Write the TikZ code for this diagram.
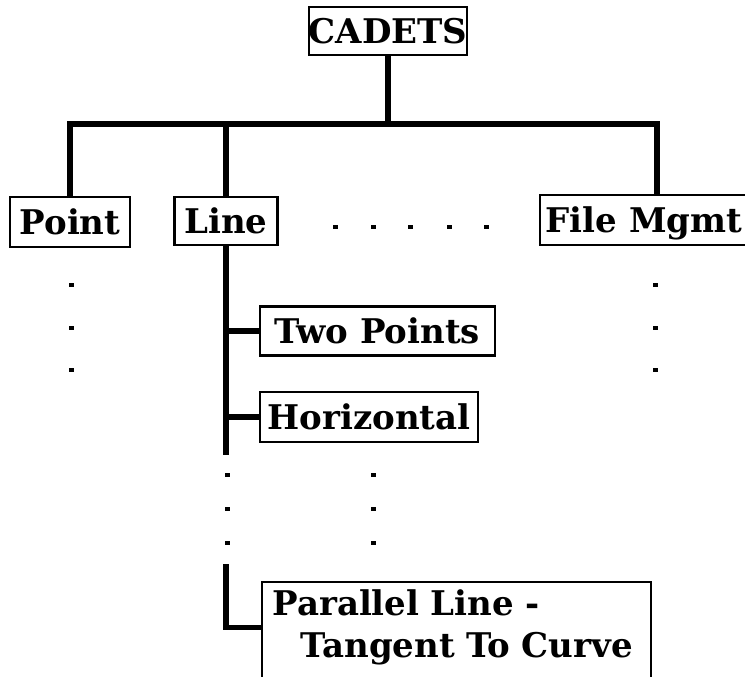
\documentclass[tikz,border=0pt]{standalone}
\usepackage{fontspec}
\setmainfont{DejaVu Serif}
\usetikzlibrary{calc}

% small dash used for the "more items" marks
\newcommand{\dotmark}[1]{\fill (#1) ++(-2.5,-1.6) rectangle ++(5,3.2);}

\begin{document}
\begin{tikzpicture}[x=0.5pt, y=-0.5pt,
    box/.style={draw, line width=1.1pt, inner sep=0pt, text height=12.5pt, text depth=0pt,
                font=\fontsize{17}{21}\selectfont\bfseries},
    conn/.style={line width=2.6pt}]
    % Frame of the picture
    \clip (0,0) rectangle (745,676);

    % Root
    \node[box, minimum width=79pt, minimum height=24pt] (cadets) at (388,31) {CADETS};

    % Second level
    \node[box, minimum width=60pt, minimum height=25pt] (point) at (70,222) {Point};
    \node[box, minimum width=51.5pt, minimum height=24pt] (line) at (226,221) {Line};
    \node[box, minimum width=104pt, minimum height=25pt] (filemgmt) at (644,220) {File Mgmt};

    % Bar between root and second level
    \coordinate (bar) at (388,124);
    \coordinate (fm) at (657,124);
    \draw[conn] (cadets.south) -- (bar);
    \draw[conn] (point.north) |- (fm) -- (fm |- filemgmt.north);
    \draw[conn] (line.north) -- (line.north |- bar);

    % Sub-items of Line
    \node[box, minimum width=117.5pt, minimum height=24.5pt] (twopts) at (377.5,331) {Two Points};
    \node[box, minimum width=109pt, minimum height=25pt] (horiz) at (369,417) {Horizontal};
    \coordinate (trunk) at (226,455);
    \draw[conn] (line.south) -- (trunk);
    \draw[conn] (twopts.west) -- (twopts.west -| trunk);
    \draw[conn] (horiz.west) -- (horiz.west -| trunk);

    % Last sub-item, box runs off the bottom
    \node[anchor=north west, text width=184pt, inner xsep=5pt, inner ysep=3.5pt, align=left,
          font=\fontsize{17}{21}\selectfont\bfseries] (parallel) at (262,582)
          {Parallel Line -\\\hspace*{14pt}Tangent To Curve};
    \draw[line width=1.1pt] (parallel.north west) ++(0,120) -- (parallel.north west)
        -- (parallel.north east) -- ++(0,120);
    \coordinate (last) at (226,564);
    \draw[conn] (last) |- (parallel.west);

    % Dots for the items left out
    \foreach \x in {335,373,410,449,486} {\dotmark{\x,227}}
    \foreach \y in {285,328,370} {\dotmark{71,\y} \dotmark{655,\y}}
    \foreach \y in {475,509,543} {\dotmark{227,\y} \dotmark{373,\y}}
\end{tikzpicture}
\end{document}
